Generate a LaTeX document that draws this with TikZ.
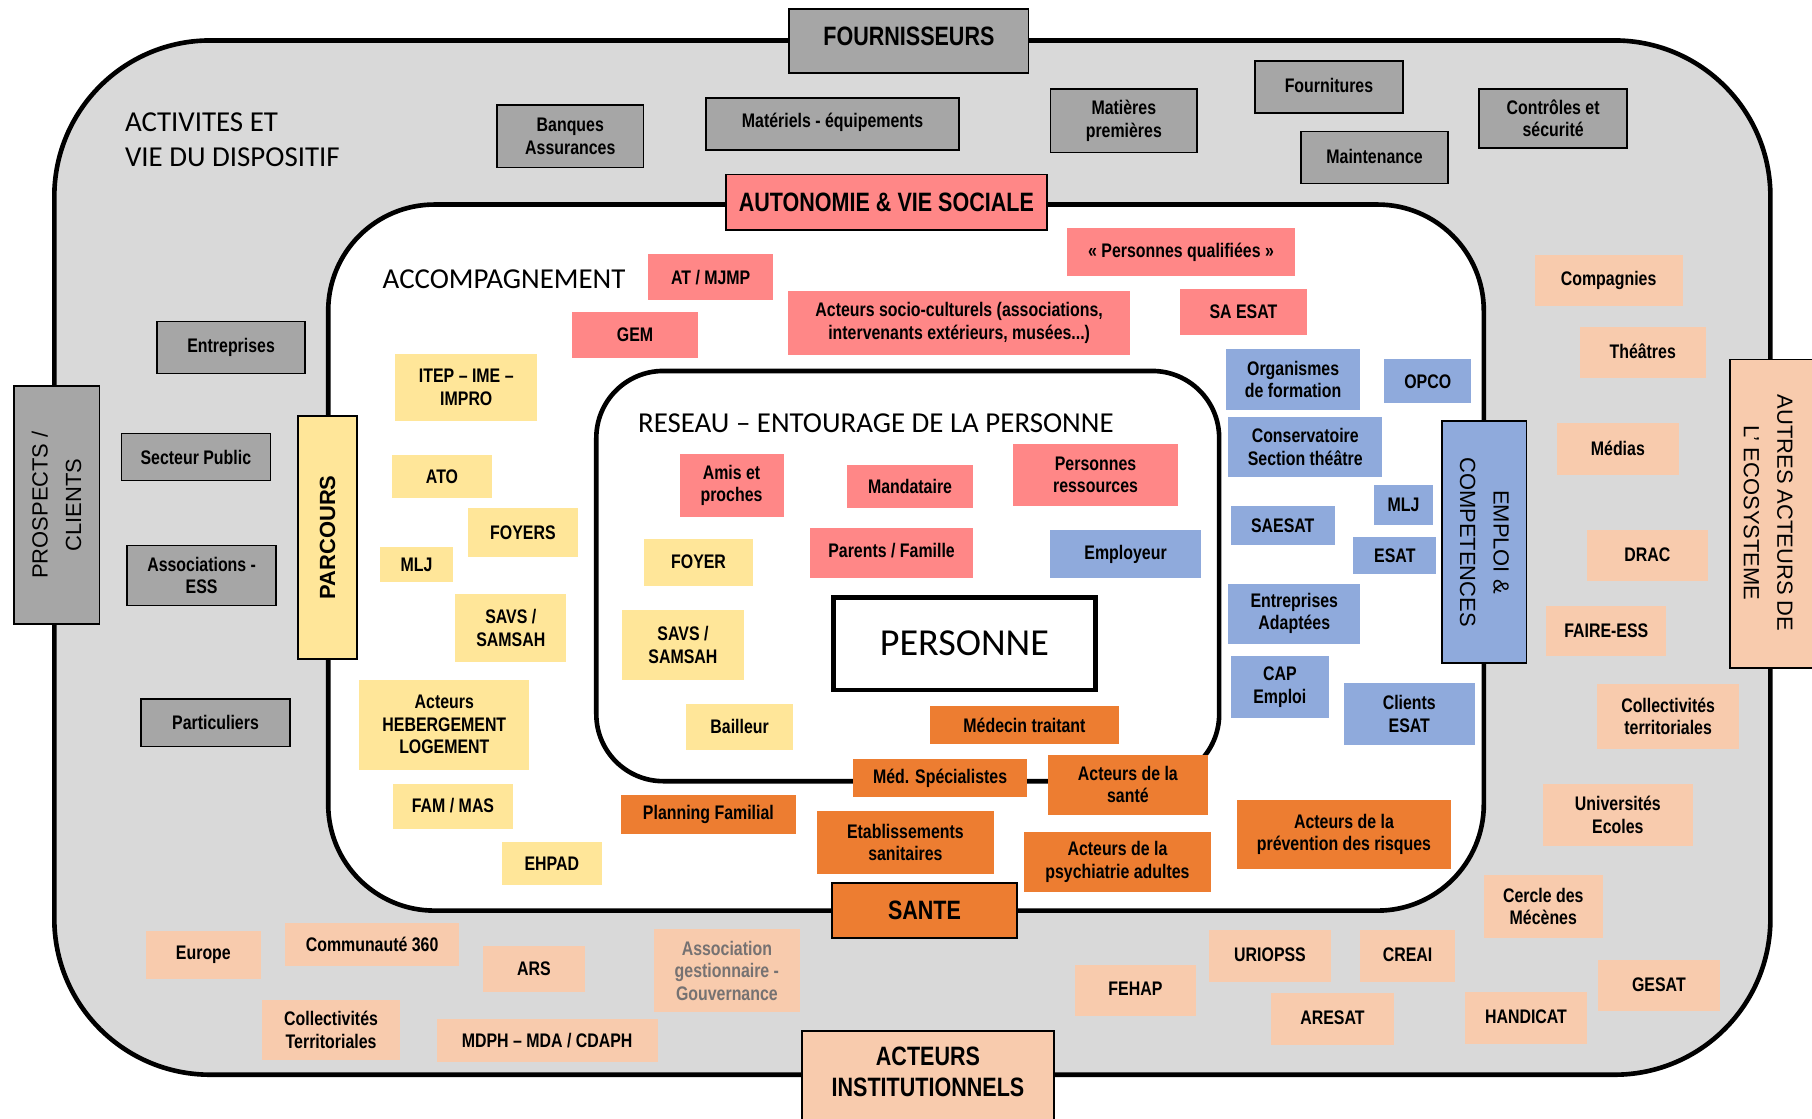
\documentclass[tikz,border=0pt]{standalone}
\usepackage{fontspec}
\setmainfont{Liberation Sans}
\newfontfamily\narfont[FakeStretch=0.81]{Liberation Sans}
\newfontfamily\calfont{Carlito}

\definecolor{ringgray}{HTML}{D9D9D9}
\definecolor{boxgray}{HTML}{A6A6A6}
\definecolor{rose}{HTML}{FF8787}
\definecolor{sand}{HTML}{FFE699}
\definecolor{sky}{HTML}{8FAADC}
\definecolor{rust}{HTML}{ED7D31}
\definecolor{peach}{HTML}{F8CBAD}
\definecolor{softtext}{HTML}{767272}

\tikzset{
  base/.style={inner sep=0pt, align=center, text=black,
    font=\narfont\bfseries\fontsize{17}{19.5}\selectfont},
  graybox/.style={base, fill=boxgray, draw=black, line width=1.3pt},
  rosebox/.style={base, fill=rose},
  sandbox/.style={base, fill=sand},
  skybox/.style={base, fill=sky},
  rustbox/.style={base, fill=rust},
  peachbox/.style={base, fill=peach},
  headfont/.style={font=\narfont\bfseries\fontsize{23}{27}\selectfont},
  head/.style={headfont, draw=black, line width=1.5pt, inner sep=0pt, align=center},
  sidefont/.style={font=\fontsize{19}{29}\selectfont},
  sidehead/.style={sidefont, draw=black, line width=1.5pt, inner sep=0pt, align=center},
  title/.style={inner sep=0pt, align=left, font=\calfont\fontsize{25}{30}\selectfont},
  ring/.style={line width=4pt, draw=black},
}

% box from its corners: name, x1, y1, x2, y2, style, text
\newcommand\bx[7]{%
  \node[#6, minimum width={(#4-#2)*1pt}, minimum height={(#5-#3)*1pt}]
    (#1) at ({(#2+#4)/2},{(#3+#5)/2}) {#7};}
% rotated box from its corners: name, x1, y1, x2, y2, style, angle, text
\newcommand\vbx[8]{%
  \node[#6, rotate=#7, minimum width={(#5-#3)*1pt}, minimum height={(#4-#2)*1pt}]
    (#1) at ({(#2+#4)/2},{(#3+#5)/2}) {#8};}

\begin{document}
\begin{tikzpicture}[x=1pt, y=-1pt]
\useasboundingbox (0,0) rectangle (1568,968);
\fill[white] (0,0) rectangle (1568,968);

% three nested rings
\draw[ring, fill=ringgray, rounded corners=135pt] (47,35) rectangle (1532,930);
\draw[ring, fill=white, rounded corners=92pt] (284,177) rectangle (1284,788);
\draw[ring, fill=white, rounded corners=58pt] (516,321) rectangle (1055,676);

% ring titles
\node[title, anchor=west] (activites) at (108,121) {ACTIVITES ET\\VIE DU DISPOSITIF};
\node[title, anchor=west] (accompagnement) at (331,242) {ACCOMPAGNEMENT};
\node[title, anchor=west] (reseau) at (552,366) {RESEAU – ENTOURAGE DE LA PERSONNE};

% centre
\bx{personne}{721}{517}{948}{597}{draw=black, line width=4pt, fill=white, inner sep=0pt,
  font=\calfont\fontsize{33}{36}\selectfont}{PERSONNE}

% headers sitting on the ring lines
\bx{fournisseurs}{683}{8}{890}{63}{head, fill=boxgray}{\raisebox{8pt}{FOURNISSEURS}}
\bx{autonomie}{628}{151}{906}{199}{head, fill=rose}{AUTONOMIE \& VIE SOCIALE}
\bx{sante}{720}{764}{880}{812}{head, fill=rust}{SANTE}
% boxes running past the page edge
\draw[line width=1.5pt, fill=peach] (694,892) rectangle (912,990);
\node[headfont, align=center, inner sep=0pt] (institutionnels) at (803,927.5)
  {ACTEURS\\INSTITUTIONNELS};
\draw[line width=1.5pt, fill=peach] (1497,311) rectangle (1600,578);
\node[sidefont, align=center, inner sep=0pt, rotate=-90] (autres) at (1530,444)
  {AUTRES ACTEURS DE\\L’ ECOSYSTEME};
\vbx{prospects}{12}{334}{86}{540}{sidehead, fill=boxgray}{90}{PROSPECTS /\\CLIENTS}
\vbx{parcours}{258}{360}{309}{570}{sidehead, fill=sand, font=\bfseries\fontsize{19}{24}\selectfont}{90}{PARCOURS}
\vbx{emploi}{1248}{364}{1321}{574}{sidehead, fill=sky}{-90}{EMPLOI \&\\COMPETENCES}

% suppliers
\bx{banques}{430}{91}{557}{145}{graybox}{Banques\\Assurances}
\bx{materiels}{611}{85}{830}{130}{graybox}{\raisebox{6pt}{Matériels - équipements}}
\bx{matieres}{909}{77}{1036}{132}{graybox}{Matières\\premières}
\bx{fournitures}{1086}{53}{1214}{98}{graybox}{\raisebox{4pt}{Fournitures}}
\bx{maintenance}{1126}{114}{1253}{159}{graybox}{\raisebox{3pt}{Maintenance}}
\bx{controles}{1280}{77}{1408}{128}{graybox}{Contrôles et\\sécurité}

% prospects / clients
\bx{entreprises}{136}{278}{264}{323}{graybox}{\raisebox{3pt}{Entreprises}}
\bx{secteur}{105}{375}{234}{416}{graybox}{Secteur Public}
\bx{associations}{110}{472}{239}{524}{graybox}{Associations -\\ESS}
\bx{particuliers}{122}{605}{251}{646}{graybox}{Particuliers}

% autonomie et vie sociale
\bx{atmjmp}{561}{220}{669}{260}{rosebox}{AT / MJMP}
\bx{gem}{495}{270}{604}{310}{rosebox}{GEM}
\bx{socio}{682}{252}{978}{307}{rosebox}{Acteurs socio-culturels (associations,\\intervenants extérieurs, musées...)}
\bx{qualifiees}{923}{197}{1121}{239}{rosebox}{« Personnes qualifiées »}
\bx{saesat}{1021}{250}{1131}{290}{rosebox}{SA ESAT}
\bx{amis}{588}{393}{678}{447}{rosebox}{Amis et\\proches}
\bx{mandataire}{733}{402}{842}{440}{rosebox}{Mandataire}
\bx{ressources}{877}{384}{1019}{438}{rosebox}{Personnes\\ressources}
\bx{parents}{701}{457}{842}{500}{rosebox}{\raisebox{4pt}{Parents / Famille}}

% parcours
\bx{itep}{342}{306}{465}{364}{sandbox}{ITEP – IME –\\IMPRO}
\bx{ato}{339}{394}{426}{431}{sandbox}{ATO}
\bx{foyers}{405}{440}{500}{482}{sandbox}{FOYERS}
\bx{mljp}{329}{473}{392}{504}{sandbox}{MLJ}
\bx{savsp}{394}{514}{490}{573}{sandbox}{SAVS /\\SAMSAH}
\bx{hebergement}{311}{588}{458}{666}{sandbox}{Acteurs\\HEBERGEMENT\\LOGEMENT}
\bx{fammas}{340}{678}{444}{717}{sandbox}{FAM / MAS}
\bx{ehpad}{434}{729}{521}{766}{sandbox}{EHPAD}
\bx{foyer}{557}{466}{652}{507}{sandbox}{FOYER}
\bx{savsr}{538}{528}{644}{588}{sandbox}{SAVS /\\SAMSAH}
\bx{bailleur}{594}{609}{686}{649}{sandbox}{Bailleur}

% emploi et competences
\bx{organismes}{1061}{302}{1177}{355}{skybox}{Organismes\\de formation}
\bx{opco}{1198}{311}{1273}{349}{skybox}{OPCO}
\bx{conservatoire}{1063}{361}{1196}{413}{skybox}{Conservatoire\\Section théâtre}
\bx{mlje}{1189}{420}{1240}{454}{skybox}{MLJ}
\bx{saesatb}{1065}{438}{1155}{472}{skybox}{SAESAT}
\bx{esat}{1171}{465}{1243}{497}{skybox}{ESAT}
\bx{employeur}{909}{459}{1039}{500}{skybox}{Employeur}
\bx{adaptees}{1063}{505}{1177}{557}{skybox}{Entreprises\\Adaptées}
\bx{capemploi}{1065}{568}{1150}{621}{skybox}{CAP\\Emploi}
\bx{clients}{1163}{591}{1276}{645}{skybox}{Clients\\ESAT}

% sante
\bx{medecin}{805}{611}{968}{644}{rustbox}{Médecin traitant}
\bx{specialistes}{738}{657}{889}{690}{rustbox}{Méd. Spécialistes}
\bx{acteursante}{907}{653}{1045}{705}{rustbox}{Acteurs de la\\santé}
\bx{planning}{537}{688}{689}{722}{rustbox}{Planning Familial}
\bx{etablissements}{707}{702}{860}{756}{rustbox}{Etablissements\\sanitaires}
\bx{psychiatrie}{886}{720}{1048}{772}{rustbox}{Acteurs de la\\psychiatrie adultes}
\bx{prevention}{1070}{692}{1256}{752}{rustbox}{Acteurs de la\\prévention des risques}

% autres acteurs de l'ecosysteme
\bx{compagnies}{1328}{221}{1456}{265}{peachbox}{\raisebox{4pt}{Compagnies}}
\bx{theatres}{1367}{283}{1476}{327}{peachbox}{\raisebox{3pt}{Théâtres}}
\bx{medias}{1347}{366}{1453}{411}{peachbox}{\raisebox{2pt}{Médias}}
\bx{drac}{1373}{459}{1478}{503}{peachbox}{\raisebox{2pt}{DRAC}}
\bx{faireess}{1338}{524}{1442}{568}{peachbox}{FAIRE-ESS}
\bx{colterr}{1382}{592}{1505}{648}{peachbox}{Collectivités\\territoriales}
\bx{universites}{1335}{678}{1465}{732}{peachbox}{Universités\\Ecoles}
\bx{cercle}{1284}{757}{1387}{812}{peachbox}{Cercle des\\Mécènes}
\bx{gesat}{1383}{831}{1488}{875}{peachbox}{\raisebox{2pt}{GESAT}}
\bx{handicat}{1268}{858}{1373}{903}{peachbox}{\raisebox{2pt}{HANDICAT}}
\bx{creai}{1177}{805}{1259}{850}{peachbox}{\raisebox{3pt}{CREAI}}
\bx{uriopss}{1046}{805}{1152}{850}{peachbox}{\raisebox{3pt}{URIOPSS}}
\bx{aresat}{1100}{859}{1206}{904}{peachbox}{\raisebox{2pt}{ARESAT}}
\bx{fehap}{930}{835}{1035}{879}{peachbox}{\raisebox{2pt}{FEHAP}}

% acteurs institutionnels
\bx{gestionnaire}{566}{804}{692}{876}{peachbox, text=softtext}{Association\\gestionnaire -\\Gouvernance}
\bx{mdph}{378}{882}{569}{919}{peachbox}{MDPH – MDA / CDAPH}
\bx{ars}{418}{819}{506}{858}{peachbox}{ARS}
\bx{communaute}{247}{799}{397}{836}{peachbox}{Communauté 360}
\bx{europe}{126}{806}{226}{847}{peachbox}{Europe}
\bx{colterrb}{227}{865}{346}{917}{peachbox}{Collectivités\\Territoriales}
\end{tikzpicture}
\end{document}
